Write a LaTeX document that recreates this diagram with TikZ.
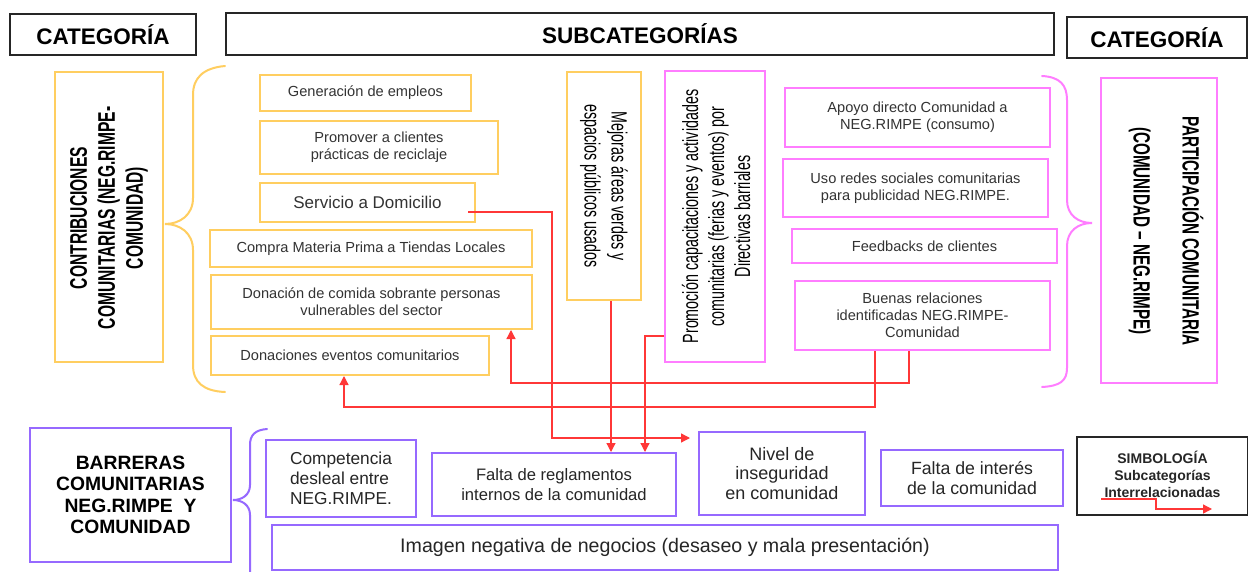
\documentclass[tikz,border=0pt]{standalone}
\usepackage{fontspec}
\setmainfont{Liberation Sans}
\newfontfamily\narrowfont[FakeStretch=0.65]{Liberation Sans}
\usetikzlibrary{arrows.meta}
\definecolor{cyel}{RGB}{255,206,96}
\definecolor{cpink}{RGB}{255,125,255}
\definecolor{cpur}{RGB}{150,105,255}
\definecolor{cred}{RGB}{255,55,55}
\newcommand\mybox[7]{\node[#1, minimum width={#4-#2}, minimum height={#5-#3}] (#6) at ({(#2+#4)/2},{(#3+#5)/2}) {#7};}
\begin{document}
\begin{tikzpicture}[x=1pt,y=-1pt,
 hdr/.style={draw=black!85, line width=1.8pt, inner sep=0pt, font=\fontsize{22.5}{26}\selectfont\bfseries},
 ybox/.style={draw=cyel, line width=2pt, inner sep=0pt, align=center, text=black!80, font=\fontsize{14.6}{17}\selectfont},
 pbox/.style={ybox, draw=cpink},
 vbox/.style={draw=cpur, line width=2pt, inner sep=0pt, align=center, text=black!85, font=\fontsize{17.7}{20}\selectfont},
 rottxt/.style={inner sep=0pt, align=center, text=black},
 rarrow/.style={draw=cred, line width=1.3pt, -{Triangle[length=9pt,width=9pt]}},
 brace/.style={line width=2pt, line cap=round}
]
\useasboundingbox (0,0) rectangle (1248,572);
\fill[white] (0,0) rectangle (1248,572);

% headers
\mybox{hdr}{10}{14}{196}{55}{hcat1}{CATEGORÍA}
\mybox{hdr}{226}{13}{1054}{55}{hsub}{SUBCATEGORÍAS}
\mybox{hdr}{1067}{17}{1247}{58}{hcat2}{CATEGORÍA}

% left category
\mybox{ybox}{55}{72}{163}{362}{cat1}{}
\node[rottxt, rotate=90, font=\narrowfont\bfseries\fontsize{24}{28}\selectfont] (cat1t) at (109,218) {CONTRIBUCIONES\\COMUNITARIAS (NEG.RIMPE-\\COMUNIDAD)};
\draw[brace, cyel] (225,66) .. controls (203,68) and (193,78) .. (193,95) -- (193,198) .. controls (193,215) and (180,224) .. (165,224) .. controls (180,224) and (193,233) .. (193,250) -- (193,365) .. controls (193,382) and (203,391) .. (225,392);

% yellow boxes
\mybox{ybox}{260}{75}{471}{111}{gen}{Generación de empleos}
\mybox{ybox}{260}{121}{498}{174}{promc}{Promover a clientes\\prácticas de reciclaje}
\mybox{ybox, font=\fontsize{17}{20}\selectfont}{260}{183}{475}{222}{serv}{Servicio a Domicilio}
\mybox{ybox}{210}{230}{532}{267}{compra}{Compra Materia Prima a Tiendas  Locales}
\mybox{ybox}{211}{275}{532}{329}{don}{Donación de comida sobrante personas\\vulnerables del sector}
\mybox{ybox}{211}{336}{489}{375}{donev}{Donaciones eventos comunitarios}
\mybox{ybox}{567}{72}{641}{300}{mej}{}
\node[rottxt, rotate=-90, font=\narrowfont\fontsize{22}{27}\selectfont] (mejt) at (604,186) {Mejoras áreas verdes y\\espacios públicos usados};

% pink boxes
\mybox{pbox}{665}{71}{765}{362}{promo}{}
\node[rottxt, rotate=90, font=\narrowfont\fontsize{22}{26}\selectfont] (promot) at (716,216.5) {Promoción capacitaciones y actividades\\comunitarias (ferias y eventos) por\\Directivas barriales};
\mybox{pbox}{785}{88}{1050}{147}{apoyo}{Apoyo directo Comunidad  a\\NEG.RIMPE (consumo)}
\mybox{pbox}{783}{159}{1048}{217}{redes}{Uso redes sociales comunitarias\\para publicidad  NEG.RIMPE.}
\mybox{pbox}{792}{229}{1057}{263}{feed}{Feedbacks de clientes}
\mybox{pbox}{795}{281}{1050}{350}{buen}{Buenas relaciones\\identificadas NEG.RIMPE-\\Comunidad}

% right category
\draw[brace, cpink] (1042,76) .. controls (1060,77) and (1067,85) .. (1067,100) -- (1067,200) .. controls (1067,215) and (1078,223) .. (1092,223) .. controls (1078,223) and (1067,231) .. (1067,246) -- (1067,368) .. controls (1067,381) and (1060,386) .. (1042,387);
\mybox{pbox}{1101}{78}{1217}{383}{cat2}{}
\node[rottxt, rotate=-90, font=\narrowfont\bfseries\fontsize{23.5}{28}\selectfont] (cat2t) at (1166,231) {PARTICIPACIÓN  COMUNITARIA\\[21pt](COMUNIDAD – NEG.RIMPE)};

% bottom: barriers
\mybox{vbox, font=\fontsize{19.3}{21.5}\selectfont\bfseries, text=black}{30}{428}{231}{562}{barr}{BARRERAS\\COMUNITARIAS\\NEG.RIMPE\ \ Y\\COMUNIDAD}
\draw[brace, cpur] (267,429) .. controls (255,430) and (250,435) .. (250,445) -- (250,485) .. controls (250,495) and (242,500) .. (233,500) .. controls (242,500) and (250,505) .. (250,515) -- (250,575);
\mybox{vbox, align=left, font=\fontsize{17.3}{20}\selectfont}{266}{440}{416}{517}{comp}{Competencia\\desleal entre\\NEG.RIMPE.}
\mybox{vbox, font=\fontsize{16.6}{20}\selectfont}{432}{453}{676}{516}{falta}{Falta de reglamentos\\internos de la comunidad}
\mybox{vbox, font=\fontsize{18}{19.5}\selectfont}{699}{432}{865}{515}{nivel}{Nivel de\\inseguridad\\en comunidad}
\mybox{vbox}{881}{450}{1063}{506}{inter}{Falta de interés\\de la comunidad}
\mybox{vbox, font=\fontsize{19.6}{22}\selectfont}{272}{525}{1058}{570}{imagen}{Imagen negativa de negocios (desaseo y mala presentación)}

% legend
\node[draw=black!85, line width=1.8pt, inner sep=0pt, align=center, minimum width=171pt, minimum height=78pt,
  font=\fontsize{14}{17}\selectfont\bfseries, text=black!85, text depth=4pt] (leg) at (1162.5,476) {SIMBOLOGÍA\\Subcategorías\\Interrelacionadas};
\coordinate (l1) at (1101,499);
\coordinate (l2) at (1156,499);
\coordinate (l3) at (1156,509);
\coordinate (l4) at (1212,509);
\draw[rarrow] (l1) -- (l2) -- (l3) -- (l4);

% red connectors
\coordinate (a1) at (552,438);
\draw[rarrow, shorten >=8pt] ([xshift=-8pt,yshift=-9.5pt]serv.east) -| (a1) -- (a1 -| nivel.west);
\draw[rarrow] ([xshift=7pt]mej.south) -- ([xshift=7pt]mej.south |- falta.north);
\coordinate (c1) at (645,336);
\draw[rarrow] (promo.west |- c1) -- (c1) -- (c1 |- falta.north);
\coordinate (d1) at (909,383);
\coordinate (d2) at (511,383);
\draw[rarrow] (buen.south -| d1) -- (d1) -- (d2) -- (d2 |- don.south);
\coordinate (e1) at (875,407);
\coordinate (e2) at (344,407);
\draw[rarrow] (buen.south -| e1) -- (e1) -- (e2) -- (e2 |- donev.south);
\end{tikzpicture}
\end{document}
